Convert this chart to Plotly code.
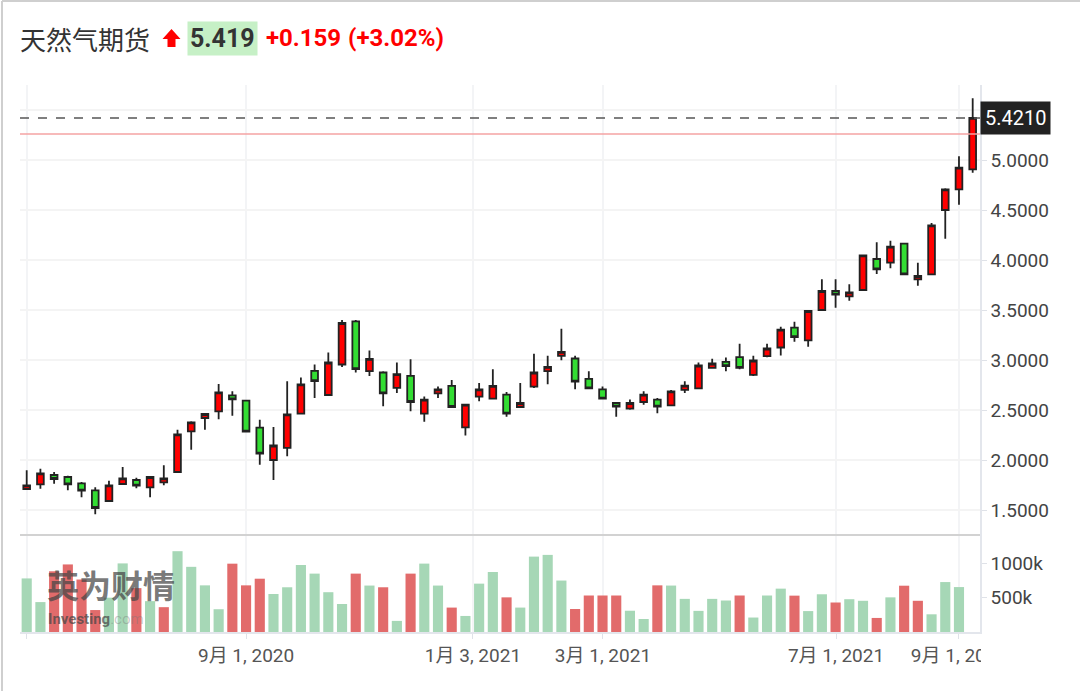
import plotly.graph_objects as go

# ---------------- data (weekly bars, index-based positions) ----------------
opens = [1.71, 1.757, 1.85, 1.83, 1.767, 1.697, 1.59, 1.76, 1.80, 1.727,
         1.777, 1.88, 2.287, 2.42, 2.487, 2.647, 2.593, 2.323, 2.00, 2.122,
         2.463, 2.891, 2.65, 2.955, 3.386, 2.888, 2.875, 2.721, 2.841, 2.463,
         2.667, 2.741, 2.326, 2.634, 2.614, 2.654, 2.53, 2.734, 2.888, 3.042,
         3.015, 2.811, 2.707, 2.57, 2.513, 2.58, 2.604, 2.547, 2.701, 2.717,
         2.921, 2.982, 3.028, 2.851, 3.038, 3.125, 3.323, 3.197, 3.50, 3.69,
         3.637, 3.70, 4.01, 3.973, 4.163, 3.807, 3.857, 4.50, 4.707, 4.907]
highs = [1.897, 1.913, 1.88, 1.843, 1.78, 1.727, 1.793, 1.93, 1.823, 1.837,
         1.947, 2.303, 2.387, 2.47, 2.76, 2.687, 2.597, 2.403, 2.33, 2.788,
         2.824, 2.955, 3.075, 3.40, 3.40, 3.095, 2.888, 2.975, 3.008, 2.634,
         2.734, 2.801, 2.56, 2.771, 2.908, 2.68, 2.771, 3.062, 3.042, 3.313,
         3.042, 2.888, 2.734, 2.57, 2.604, 2.687, 2.62, 2.701, 2.788, 2.975,
         3.012, 3.025, 3.162, 3.042, 3.162, 3.333, 3.383, 3.50, 3.807, 3.807,
         3.757, 4.053, 4.177, 4.193, 4.17, 3.973, 4.37, 4.717, 5.037, 5.617]
lows = [1.703, 1.713, 1.763, 1.697, 1.627, 1.457, 1.58, 1.753, 1.717, 1.627,
        1.747, 1.877, 2.103, 2.303, 2.407, 2.443, 2.277, 1.953, 1.80, 2.038,
        2.457, 2.62, 2.647, 2.93, 2.875, 2.841, 2.537, 2.671, 2.487, 2.383,
        2.62, 2.527, 2.246, 2.587, 2.614, 2.433, 2.523, 2.721, 2.758, 2.998,
        2.707, 2.707, 2.604, 2.433, 2.503, 2.553, 2.467, 2.543, 2.671, 2.71,
        2.915, 2.888, 2.908, 2.841, 3.028, 3.045, 3.182, 3.133, 3.493, 3.523,
        3.593, 3.693, 3.86, 3.917, 3.85, 3.743, 3.85, 4.213, 4.553, 4.873]
closes = [1.747, 1.867, 1.81, 1.757, 1.693, 1.52, 1.747, 1.817, 1.743, 1.83,
          1.817, 2.257, 2.377, 2.46, 2.677, 2.607, 2.283, 2.063, 2.145, 2.457,
          2.757, 2.788, 2.975, 3.37, 2.908, 3.012, 2.667, 2.858, 2.58, 2.604,
          2.707, 2.53, 2.553, 2.707, 2.741, 2.463, 2.57, 2.875, 2.931, 3.082,
          2.784, 2.717, 2.614, 2.533, 2.57, 2.654, 2.533, 2.687, 2.744, 2.945,
          2.965, 2.938, 2.921, 2.995, 3.115, 3.303, 3.229, 3.49, 3.69, 3.653,
          3.677, 4.047, 3.907, 4.133, 3.857, 3.84, 4.347, 4.707, 4.923, 5.421]

# volume in thousands, and bar colour direction as shown on the chart
volumes = [781, 436, 885, 985, 765, 320, 500, 1000, 640, 450,
           362, 1178, 950, 680, 332, 996, 680, 777, 554, 652,
           977, 851, 580, 408, 851, 677, 652, 162, 851, 997,
           677, 356, 234, 705, 875, 505, 356, 1099, 1124, 750,
           335, 532, 532, 532, 310, 190, 680, 677, 483, 308,
           483, 459, 532, 211, 532, 632, 530, 305, 550, 430,
           478, 455, 205, 505, 675, 455, 258, 728, 655]
vol_dir = list("GGRRRRGGRG" "RGGGGRRRGG" "GGGGRGRGRG" "GRGGGRGGGG"
               "RRRRGGRGGG" "GGRGGGRGGR" "GGRGRRGGG")

date_ticks = [0, 16, 32.55, 42.03, 59.03, 68.0]
date_labels = ["", "9月 1, 2020", "1月 3, 2021", "3月 1, 2021", "7月 1, 2021", "9月 1, 2021"]

price_ticks = [1.5, 2.0, 2.5, 3.0, 3.5, 4.0, 4.5, 5.0, 5.5]
vol_ticks = [500, 1000]
vol_tick_labels = ["500k", "1000k"]

title_name = "天然气期货"
last_price_text = "5.419"
change_text = "+0.159"
change_pct_text = "(+3.02%)"
prev_close = 5.26
current_price = 5.421

# ---------------- figure ----------------
W, H = 1080, 691
L, R, T, B = 20, 100, 85, 59
PW, PH = W - L - R, H - T - B


def px(x):
    return (x - L) / PW


def py(y):
    return (H - B - y) / PH


vol_frac = (632 - 535) / PH
idx = list(range(len(opens)))
vidx = list(range(len(volumes)))

fig = go.Figure()

fig.add_trace(go.Bar(
    x=vidx, y=volumes, yaxis="y2", xaxis="x",
    marker=dict(color=["#e26b6b" if d == "R" else "#a6d7b6" for d in vol_dir],
                line=dict(width=0)),
    width=0.74, hoverinfo="skip", showlegend=False,
))

fig.add_trace(go.Candlestick(
    x=idx, open=opens, high=highs, low=lows, close=closes,
    xaxis="x", yaxis="y",
    increasing=dict(fillcolor="#ff0000", line=dict(color="#222222", width=1.8)),
    decreasing=dict(fillcolor="#33dd33", line=dict(color="#222222", width=1.8)),
    whiskerwidth=0, showlegend=False,
))

xr = [(L - 26.7) / 13.71, (W - R - 26.7) / 13.71]

axis_font = dict(family="Roboto", size=19, color="#444444")

fig.update_layout(
    width=W, height=H,
    margin=dict(l=L, r=R, t=T, b=B),
    paper_bgcolor="white", plot_bgcolor="white",
    xaxis=dict(
        range=xr, anchor="y2", rangeslider=dict(visible=False),
        tickvals=date_ticks, ticktext=date_labels,
        showgrid=True, gridcolor="#f3f4f6", gridwidth=1.5,
        showline=True, linecolor="#e3e6ec", linewidth=1.5,
        ticks="outside", ticklen=5, tickcolor="#dfe2e8",
        tickfont=dict(family="Roboto, Noto Sans CJK SC", size=19, color="#555555"),
        zeroline=False,
    ),
    yaxis=dict(
        domain=[vol_frac, 1], range=[1.25, 5.75], side="right",
        tickvals=price_ticks, tickformat=".4f",
        showgrid=True, gridcolor="#f4f4f4", gridwidth=1.5,
        showline=True, linecolor="#e3e6ec", linewidth=1.5,
        ticks="outside", ticklen=5, tickcolor="#dfe2e8",
        tickfont=axis_font,
        zeroline=False, fixedrange=True,
    ),
    yaxis2=dict(
        domain=[0, vol_frac], range=[0, (632 - 535) / 68.6 * 1000], side="right",
        tickvals=vol_ticks, ticktext=vol_tick_labels,
        showgrid=False,
        showline=True, linecolor="#e3e6ec", linewidth=1.5,
        ticks="outside", ticklen=5, tickcolor="#dfe2e8",
        tickfont=axis_font,
        zeroline=False,
    ),
)

shapes = [
    # previous close line
    dict(type="line", xref="paper", yref="y", x0=0, x1=1, y0=prev_close, y1=prev_close,
         line=dict(color="#f4a3a3", width=1.5)),
    # current price dashed line
    dict(type="line", xref="paper", yref="y", x0=0, x1=1, y0=current_price, y1=current_price,
         line=dict(color="#555555", width=1.5, dash="dash")),
    # separator between price and volume panes
    dict(type="line", xref="paper", yref="paper", x0=0, x1=1, y0=vol_frac, y1=vol_frac,
         line=dict(color="#d2d2d2", width=2)),
    # outer card border (top, left)
    dict(type="line", xref="paper", yref="paper", x0=px(2), x1=px(1080), y0=py(1), y1=py(1),
         line=dict(color="#cfcfcf", width=2)),
    dict(type="line", xref="paper", yref="paper", x0=px(2), x1=px(2), y0=py(1), y1=py(691),
         line=dict(color="#cfcfcf", width=2)),
    # clip of the last date label at the price-axis edge
    dict(type="rect", xref="paper", yref="paper", x0=px(981), x1=px(1080), y0=py(642), y1=py(680),
         fillcolor="white", line=dict(width=0), layer="above"),
    # red up arrow in title
    dict(type="path", xref="paper", yref="paper", layer="above",
         path=(f"M {px(171.5)} {py(29)} L {px(180.5)} {py(39)} L {px(175.5)} {py(39)} "
               f"L {px(175.5)} {py(47)} L {px(167.5)} {py(47)} L {px(167.5)} {py(39)} "
               f"L {px(162.5)} {py(39)} Z"),
         fillcolor="#ff0000", line=dict(width=0)),
]
fig.update_layout(shapes=shapes)

ty = py(38)
annotations = [
    dict(xref="paper", yref="paper", x=px(18), y=ty, xanchor="left", yanchor="middle",
         text=title_name, showarrow=False,
         font=dict(family="Noto Sans CJK SC", size=26, color="#333333")),
    dict(xref="paper", yref="paper", x=px(187), y=ty, xanchor="left", yanchor="middle",
         text=f"<b>{last_price_text}</b>", showarrow=False, bgcolor="#c6f0c6", borderpad=2,
         font=dict(family="Roboto", size=25, color="#333333")),
    dict(xref="paper", yref="paper", x=px(264), y=ty, xanchor="left", yanchor="middle",
         text=f"<b>{change_text}</b>", showarrow=False,
         font=dict(family="Roboto", size=24, color="#ff0000")),
    dict(xref="paper", yref="paper", x=px(346), y=ty, xanchor="left", yanchor="middle",
         text=f"<b>{change_pct_text}</b>", showarrow=False,
         font=dict(family="Roboto", size=24, color="#ff0000")),
    # current price label on the axis
    dict(xref="paper", yref="y", x=px(980), y=current_price, xanchor="left", yanchor="middle",
         text=f"{current_price:.4f}", showarrow=False, bgcolor="#222222", borderpad=4,
         font=dict(family="Roboto", size=20, color="white")),
    # watermark
    dict(xref="paper", yref="paper", x=px(45), y=py(584), xanchor="left", yanchor="middle",
         text="<b>英为财情</b>", showarrow=False,
         font=dict(family="Noto Sans CJK SC", size=32, color="rgba(70,70,70,0.72)")),
    dict(xref="paper", yref="paper", x=px(46), y=py(619), xanchor="left", yanchor="middle",
         text="<b>Investing</b><span style='color:rgba(120,120,120,0.55)'>.com</span>",
         showarrow=False,
         font=dict(family="Roboto", size=15, color="rgba(70,70,70,0.72)")),
]
fig.update_layout(annotations=annotations)

fig.write_html("out.html", config={"displayModeBar": False},
               post_script="document.body.style.margin='0px';")
